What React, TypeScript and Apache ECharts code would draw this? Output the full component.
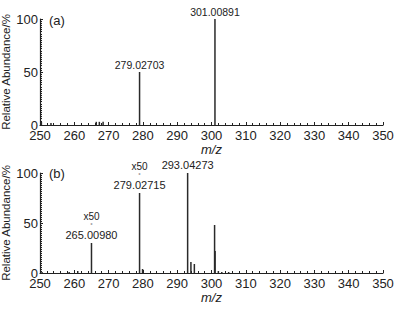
import React, { useEffect, useRef } from "react";
import * as echarts from "echarts";

const mzA = [250.4, 253.2, 266.4, 267.3, 268.4, 279.02703, 301.00891];
const abA = [3, 2, 3, 3, 3, 50, 100];
const labelsA: Record<number, string> = { 5: "279.02703", 6: "301.00891" };

const mzB = [250.6, 258.5, 261.0, 265.0098, 279.02715, 279.9, 293.04273, 294.0, 295.0, 300.9, 301.05, 302.0, 303.0, 305.0];
const abB = [1, 1, 2, 30, 80, 4, 100, 11, 9, 48, 22, 2, 1, 1];
const labelsB: Record<number, string[]> = {
  3: ["x50", "265.00980"],
  4: ["x50", "279.02715"],
  6: ["", "293.04273"],
};

const xTicks = [250, 260, 270, 280, 290, 300, 310, 320, 330, 340, 350];
const yTicks = [0, 50, 100];

const FONT = "Liberation Sans, Arial, sans-serif";

export default function App() {
  const ref = useRef<HTMLDivElement>(null);
  useEffect(() => {
    if (!ref.current) return;
    const chart = echarts.init(ref.current, undefined, { renderer: "svg" });
    const axisX = (gi: number) => ({
      type: "value",
      gridIndex: gi,
      min: xTicks[0],
      max: xTicks[xTicks.length - 1],
      interval: 10,
      name: "m/z",
      nameLocation: "middle",
      nameGap: 18,
      nameMoveOverlap: false,
      nameTextStyle: { fontFamily: FONT, fontStyle: "italic", fontSize: 13, color: "#222", verticalAlign: "top" },
      axisLine: { lineStyle: { color: "#222", width: 1.2 } },
      axisTick: { inside: true, length: 3, lineStyle: { color: "#222" } },
      minorTick: { show: true, splitNumber: 5, length: 2, lineStyle: { color: "#222" } },
      axisLabel: { fontFamily: FONT, fontSize: 13, color: "#222", margin: 4 },
      splitLine: { show: false },
    });
    const axisY = (gi: number) => ({
      type: "value",
      gridIndex: gi,
      min: yTicks[0],
      max: yTicks[yTicks.length - 1],
      interval: 50,
      name: "Relative Abundance/%",
      nameLocation: "middle",
      nameGap: 28,
      nameMoveOverlap: false,
      nameTextStyle: { fontFamily: FONT, fontSize: 11.5, color: "#222" },
      axisLine: { show: true, lineStyle: { color: "#222", width: 1.2 } },
      axisTick: { inside: true, length: 3, lineStyle: { color: "#222" } },
      minorTick: { show: true, splitNumber: 25, length: 2, lineStyle: { color: "#222" } },
      axisLabel: { fontFamily: FONT, fontSize: 13, color: "#222", margin: 2, padding: [0, 0, 4, 0] },
      splitLine: { show: false },
    });
    const dataA = mzA.map((x, i) =>
      labelsA[i]
        ? {
            value: [x, abA[i]],
            label: { show: true, position: "top", distance: 2, formatter: labelsA[i], fontFamily: FONT, fontSize: 10.5, color: "#222" },
          }
        : { value: [x, abA[i]] }
    );
    const dataB = mzB.map((x, i) => {
      const l = labelsB[i];
      if (!l) return { value: [x, abB[i]] };
      const fmt = l[0] ? `{a|${l[0]}}\n{m|°}\n{c|${l[1]}}` : `{c|${l[1]}}`;
      return {
        value: [x, abB[i]],
        label: {
          show: true,
          position: "top",
          distance: 2,
          formatter: fmt,
          rich: {
            a: { fontFamily: FONT, fontSize: 10, color: "#222", lineHeight: 11 },
            m: { fontFamily: FONT, fontSize: 6, color: "#444", lineHeight: 6 },
            c: { fontFamily: FONT, fontSize: 11, color: "#222", lineHeight: 13 },
          },
        },
      };
    });
    chart.setOption({
      animation: false,
      backgroundColor: "#fff",
      grid: [
        { left: 40, right: 29, top: 19, height: 106, outerBoundsMode: "none", containLabel: false },
        { left: 40, right: 29, top: 173, height: 100, outerBoundsMode: "none", containLabel: false },
      ],
      xAxis: [axisX(0), axisX(1)],
      yAxis: [axisY(0), axisY(1)],
      graphic: [
        { type: "text", left: 49, top: 14, style: { text: "(a)", fontFamily: FONT, fontSize: 13, fill: "#222" } },
        { type: "text", left: 49, top: 167, style: { text: "(b)", fontFamily: FONT, fontSize: 13, fill: "#222" } },
      ],
      series: [
        { type: "bar", xAxisIndex: 0, yAxisIndex: 0, barWidth: 1.5, itemStyle: { color: "#2a2a2a" }, data: dataA },
        { type: "bar", xAxisIndex: 1, yAxisIndex: 1, barWidth: 1.5, itemStyle: { color: "#2a2a2a" }, data: dataB },
      ],
    });
    return () => chart.dispose();
  }, []);
  return <div ref={ref} style={{ width: 412, height: 313, position: "absolute", left: 0, top: 0 }} />;
}
